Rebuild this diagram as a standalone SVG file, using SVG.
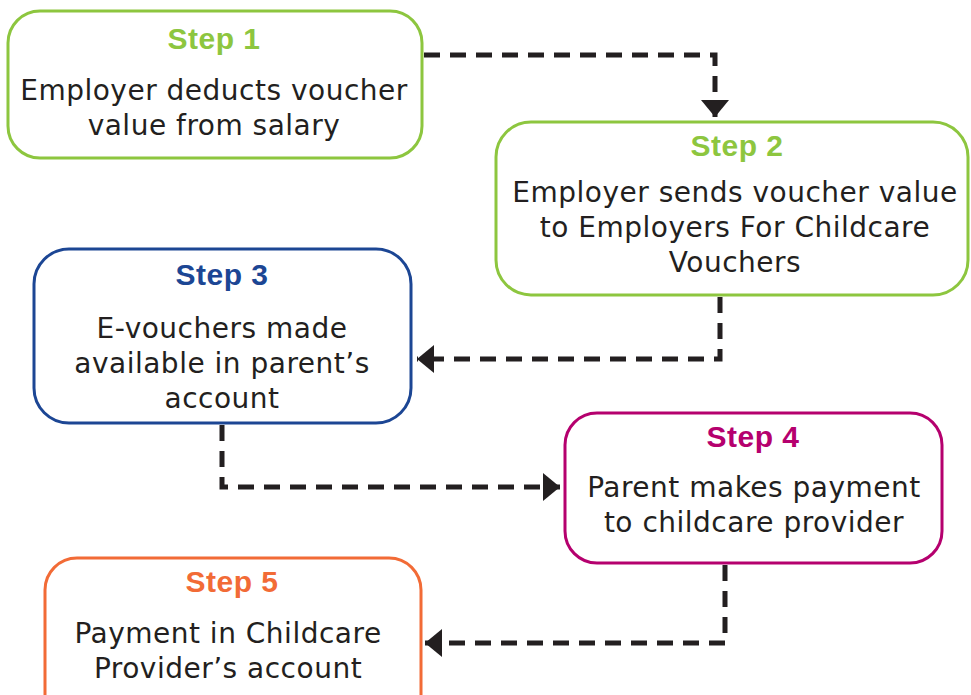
<svg xmlns="http://www.w3.org/2000/svg" width="971" height="695" viewBox="0 0 971 695">
  <style>
    .box { fill: #ffffff; stroke-width: 3; }
    .title { font-family: "Liberation Sans", Arial, sans-serif; font-weight: bold; font-size: 30px; letter-spacing: 0.5px; text-anchor: middle; }
    .body { font-family: "DejaVu Sans", Verdana, sans-serif; font-size: 28px; letter-spacing: 0.5px; fill: #231f20; text-anchor: middle; }
    .conn { fill: none; stroke: #231f20; stroke-width: 5; stroke-dasharray: 16 10; }
  </style>
  <defs>
    <marker id="arrow" markerUnits="userSpaceOnUse" markerWidth="18" markerHeight="30" refX="17" refY="15" orient="auto" viewBox="0 0 18 30">
      <path d="M0,1 L17,15 L0,29 z" fill="#231f20"/>
    </marker>
  </defs>
  <rect width="971" height="695" fill="#ffffff"/>

  <g id="connectors">
    <path class="conn" d="M424,55 H715 V117" marker-end="url(#arrow)"/>
    <path class="conn" d="M720,297 V359 H417" marker-end="url(#arrow)"/>
    <path class="conn" d="M222,425 V487 H560" marker-end="url(#arrow)"/>
    <path class="conn" d="M725,565 V643 H425" marker-end="url(#arrow)"/>
  </g>

  <g id="step1">
    <rect class="box" x="8" y="11" width="414" height="147" rx="32" stroke="#8dc63f"/>
    <text class="title" x="214" y="49" fill="#8dc63f">Step 1</text>
    <text class="body" x="214" y="100">Employer deducts voucher</text>
    <text class="body" x="214" y="135">value from salary</text>
  </g>

  <g id="step2">
    <rect class="box" x="496" y="122" width="472" height="173" rx="35" stroke="#8dc63f"/>
    <text class="title" x="737" y="156" fill="#8dc63f">Step 2</text>
    <text class="body" x="735" y="202">Employer sends voucher value</text>
    <text class="body" x="735" y="237">to Employers For Childcare</text>
    <text class="body" x="735" y="272">Vouchers</text>
  </g>

  <g id="step3">
    <rect class="box" x="34" y="249" width="377" height="174" rx="35" stroke="#1c4694"/>
    <text class="title" x="222" y="285" fill="#1c4694">Step 3</text>
    <text class="body" x="222" y="338">E-vouchers made</text>
    <text class="body" x="222" y="373">available in parent’s</text>
    <text class="body" x="222" y="408">account</text>
  </g>

  <g id="step4">
    <rect class="box" x="565" y="413" width="377" height="150" rx="32" stroke="#b5006e"/>
    <text class="title" x="753" y="447" fill="#b5006e">Step 4</text>
    <text class="body" x="754" y="497">Parent makes payment</text>
    <text class="body" x="754" y="532">to childcare provider</text>
  </g>

  <g id="step5">
    <rect class="box" x="45" y="558" width="376" height="170" rx="32" stroke="#f26b36"/>
    <text class="title" x="232" y="592" fill="#f26b36">Step 5</text>
    <text class="body" x="228" y="643">Payment in Childcare</text>
    <text class="body" x="228" y="678">Provider’s account</text>
  </g>
</svg>
